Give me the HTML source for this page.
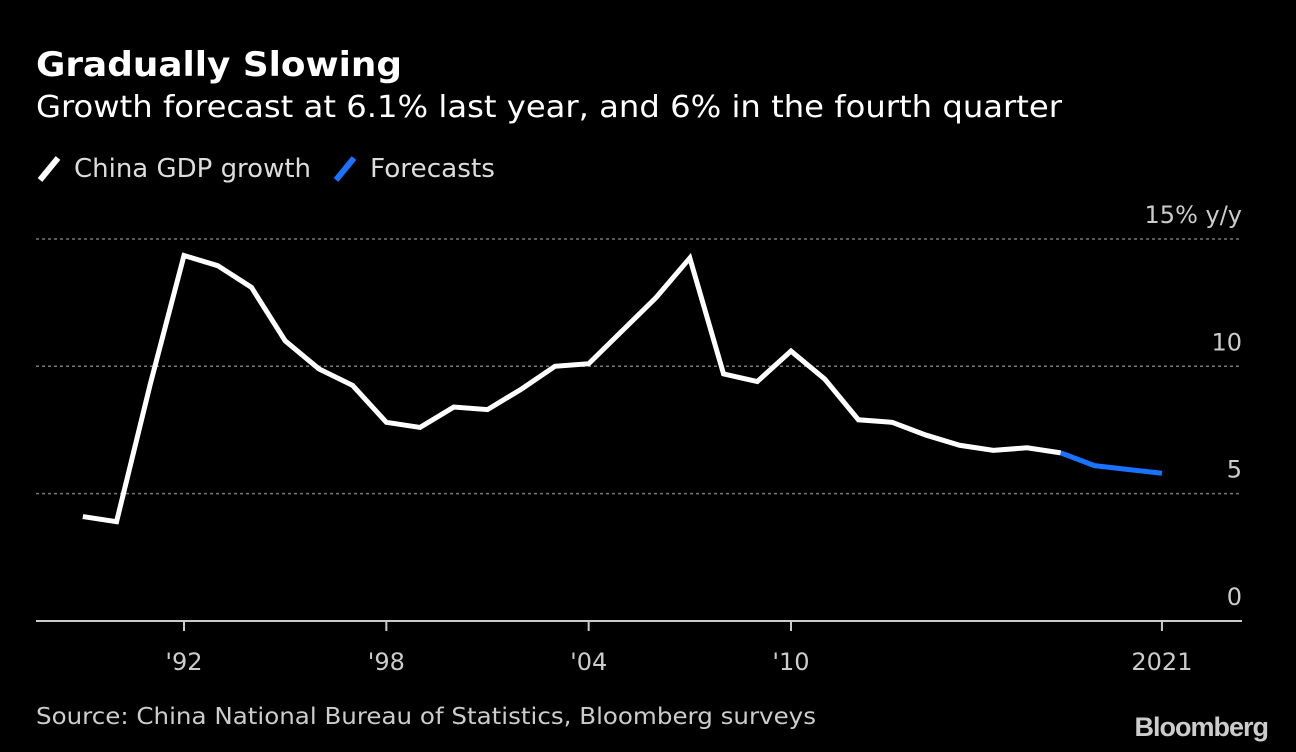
<!DOCTYPE html>
<html><head><meta charset="utf-8"><style>
body{margin:0;background:#000;width:1296px;height:752px;overflow:hidden;font-family:"DejaVu Sans","Liberation Sans",sans-serif;color:#fff}
#c{position:absolute;left:0;top:0}
text{font-family:"DejaVu Sans","Liberation Sans",sans-serif}
</style></head><body>
<svg id="c" width="1296" height="752">
<text x="36" y="76" font-size="34" font-weight="bold" fill="#fff" textLength="366" lengthAdjust="spacingAndGlyphs">Gradually Slowing</text>
<text x="36" y="117" font-size="30" fill="#fff" textLength="1026" lengthAdjust="spacingAndGlyphs">Growth forecast at 6.1% last year, and 6% in the fourth quarter</text>
<g>
<line x1="40" y1="180" x2="58" y2="158" stroke="#fff" stroke-width="6"/>
<text x="74" y="177" font-size="26" fill="#ddd" textLength="237" lengthAdjust="spacingAndGlyphs">China GDP growth</text>
<line x1="336" y1="180" x2="354" y2="158" stroke="#1a73ff" stroke-width="6"/>
<text x="370" y="177" font-size="26" fill="#ddd" textLength="125" lengthAdjust="spacingAndGlyphs">Forecasts</text>
</g>
<g id="grid"></g><g id="xax"></g><g id="lines"></g>
<text x="36" y="724" font-size="23" fill="#ccc" textLength="780" lengthAdjust="spacingAndGlyphs">Source: China National Bureau of Statistics, Bloomberg surveys</text>
<text x="1268" y="736" font-size="27" font-weight="bold" fill="#ccc" text-anchor="end" letter-spacing="-1" style="font-family:'Liberation Sans',sans-serif">Bloomberg</text>
</svg>
<script>
const years=[1989,1990,1991,1992,1993,1994,1995,1996,1997,1998,1999,2000,2001,2002,2003,2004,2005,2006,2007,2008,2009,2010,2011,2012,2013,2014,2015,2016,2017,2018];
const gdp=[4.1,3.9,9.3,14.35,13.95,13.1,11.0,9.9,9.25,7.8,7.6,8.4,8.3,9.1,10.0,10.1,11.4,12.7,14.25,9.7,9.4,10.6,9.5,7.9,7.8,7.3,6.9,6.7,6.8,6.6];
const fYears=[2018,2019,2020,2021];
const forecast=[6.6,6.1,5.95,5.8];
const yTicks=[0,5,10,15];
const yTickLabels=["0","5","10","15% y/y"];
const xTicks=[1992,1998,2004,2010,2021];
const xTickLabels=["'92","'98","'04","'10","2021"];
const ns="http://www.w3.org/2000/svg";
const X=y=>184+(y-1992)*(791-184)/18;
const Y=v=>621-v*25.47;
function mk(t,a,p){const e=document.createElementNS(ns,t);for(const k in a)e.setAttribute(k,a[k]);p.appendChild(e);return e;}
const g=document.getElementById('grid');
yTicks.forEach((v,i)=>{
 if(v>0){const l=mk('line',{x1:36,x2:1242,y1:Y(v),y2:Y(v),stroke:'#777','stroke-width':1.5,'stroke-dasharray':'3,3'},g);
 
 }
 const t=mk('text',{x:1242,y:Y(v)-16,'font-size':24,fill:'#ccc','text-anchor':'end'},g);t.textContent=yTickLabels[i];
 
 
});
const xa=document.getElementById('xax');
const ax=mk('line',{x1:36,x2:1242,y1:621,y2:621,stroke:'#ccc','stroke-width':2},xa);


xTicks.forEach((y,i)=>{
 const tk=mk('line',{x1:X(y),x2:X(y),y1:621,y2:631,stroke:'#ccc','stroke-width':2},xa);
 
 
 const t=mk('text',{x:X(y),y:670,'font-size':24,fill:'#ccc','text-anchor':'middle'},xa);t.textContent=xTickLabels[i];
 
 
});
const L=document.getElementById('lines');
const p1=mk('polyline',{points:years.map((y,i)=>X(y)+','+Y(gdp[i])).join(' '),fill:'none',stroke:'#fff','stroke-width':5,'stroke-linejoin':'miter'},L);


const p2=mk('polyline',{points:fYears.map((y,i)=>X(y)+','+Y(forecast[i])).join(' '),fill:'none',stroke:'#1a73ff','stroke-width':5},L);


</script>
</body></html>
